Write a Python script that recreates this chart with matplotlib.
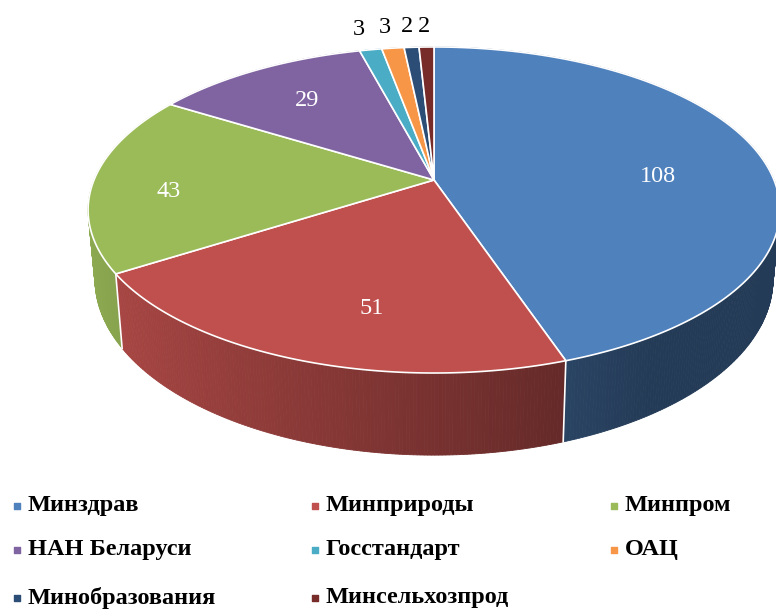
import numpy as np
import matplotlib
matplotlib.use("Agg")
import matplotlib.pyplot as plt
from matplotlib.patches import Polygon

# data
labels = ["Минздрав", "Минприроды", "Минпром", "НАН Беларуси",
          "Госстандарт", "ОАЦ", "Минобразования", "Минсельхозпрод"]
values = [108, 51, 43, 29, 3, 3, 2, 2]
colors = ["#4F81BD", "#C0504D", "#9BBB59", "#8064A2",
          "#4BACC6", "#F79646", "#2C4D75", "#772C2A"]

# layout of the 3d pie (pixels)
cx, cy = 434, 180
A, B, k = 340, 157.5, 0.184
D = 67
inner_r = [0.68, 0.5, 0.78, 0.69]
inner_dy = [14, 47, 11, 0]
outer_r = 1.2

plt.rcParams["font.family"] = ["Liberation Serif", "DejaVu Serif"]

fig = plt.figure(figsize=(7.76, 6.14), dpi=100)
ax = fig.add_axes([0, 0, 1, 1])
ax.set_xlim(0, 776)
ax.set_ylim(614, 0)
ax.axis("off")


def proj(theta, r=1.0, depth=0.0):
    t = np.radians(theta)
    u = r * np.sin(t)
    v = r * np.cos(t)
    w = 1 + k * v
    xs = cx + A * u / w * (1 - 0.02 * depth)
    ys = cy - B * v / w + depth * D / w
    return xs, ys


def shade(col, f):
    rgb = np.array(matplotlib.colors.to_rgb(col))
    return tuple(np.clip(rgb * f, 0, 1))


total = sum(values)
bounds = np.concatenate([[0], np.cumsum(values)]) / total * 360

# sides first (back to front)
quads = []
for i, col in enumerate(colors):
    a0, a1 = bounds[i], bounds[i + 1]
    steps = np.linspace(a0, a1, max(int((a1 - a0) * 2), 2) + 1)
    for t1, t2 in zip(steps[:-1], steps[1:]):
        tm = (t1 + t2) / 2
        u = np.sin(np.radians(tm))
        v = np.cos(np.radians(tm))
        f = np.clip(0.62 - 0.3 * u, 0.46, 1.0)
        x1, y1 = proj(t1)
        x2, y2 = proj(t2)
        x3, y3 = proj(t2, depth=1)
        x4, y4 = proj(t1, depth=1)
        quads.append((v, [(x1, y1), (x2, y2), (x3, y3), (x4, y4)], shade(col, f)))
quads.sort(key=lambda q: -q[0])
for v, pts, fc in quads:
    ax.add_patch(Polygon(pts, closed=True, facecolor=fc, edgecolor=fc,
                         linewidth=0.6, zorder=1))

# white lines at slice boundaries on the front side
for b in bounds[:-1]:
    if np.cos(np.radians(b)) < -k:
        x1, y1 = proj(b)
        x2, y2 = proj(b, depth=1)
        ax.plot([x1, x2], [y1, y2], color="white", lw=1.2, zorder=2)

# top faces
for i, col in enumerate(colors):
    a0, a1 = bounds[i], bounds[i + 1]
    th = np.linspace(a0, a1, max(int((a1 - a0) * 2), 2) + 1)
    xs, ys = proj(th)
    pts = [(cx, cy)] + list(zip(xs, ys))
    ax.add_patch(Polygon(pts, closed=True, facecolor=col, edgecolor="white",
                         linewidth=1.2, joinstyle="round", zorder=3))

# data labels
mids = (bounds[:-1] + bounds[1:]) / 2
for i, val in enumerate(values):
    if i < len(inner_r):
        x, y = proj(mids[i], r=inner_r[i])
        ax.text(x, y + inner_dy[i], str(val), color="white", fontsize=17.5,
                ha="center", va="center", zorder=5)
    else:
        x, y = proj(mids[i], r=outer_r)
        ax.text(x - 1, y + 1, str(val), color="black", fontsize=17.5,
                ha="center", va="center", zorder=5)

# legend, row-wise in three columns
col_x = [17, 315, 614]
row_y = [506, 550, 598]
for i, (lab, col) in enumerate(zip(labels, colors)):
    x = col_x[i % 3]
    y = row_y[i // 3]
    ax.scatter([x], [y], marker="s", s=16, color=col, zorder=5)
    ax.text(x + 11, y, lab, fontsize=17.5, fontweight="bold", color="black",
            ha="left", va="center", zorder=5)

fig.savefig("out.png", dpi=100)
